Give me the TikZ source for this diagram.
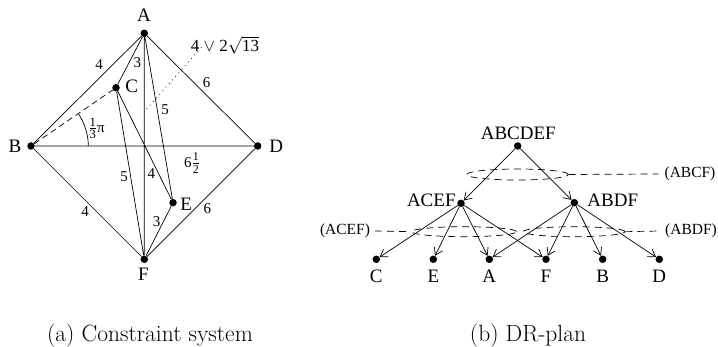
\documentclass[tikz,border=0pt]{standalone}
\usepackage{amsmath}
\usepackage{fontspec}
\newfontfamily\tms{Liberation Serif}
\usetikzlibrary{arrows.meta,shapes.geometric}
\begin{document}
\begin{tikzpicture}[x=1pt,y=-1pt,
  dot/.style={circle,fill,inner sep=0pt,minimum size=7.5pt},
  vlab/.style={font=\tms\fontsize{19}{21}\selectfont,inner sep=0pt},
  elab/.style={font=\tms\fontsize{15}{17}\selectfont,inner sep=0pt},
  plab/.style={font=\tms\fontsize{15.5}{17}\selectfont,inner sep=0pt},
  ln/.style={line width=0.7pt},
  arr/.style={line width=0.7pt,-{Straight Barb[length=7pt,width=9pt,line width=0.7pt]}},
  dsh/.style={line width=0.7pt,dash pattern=on 7pt off 5pt},
  capt/.style={font=\fontsize{23.5}{27}\selectfont,inner sep=0pt,anchor=base}]
\path[use as bounding box] (0,0) rectangle (718,347);
% ---------- (a) constraint system ----------
\node[dot] (A) at (144.3,33.3) {};
\node[dot] (B) at (31,146) {};
\node[dot] (D) at (257.7,146) {};
\node[dot] (F) at (144.3,259.3) {};
\node[dot] (C) at (116,87.7) {};
\node[dot] (E) at (173,202.7) {};
\node[vlab] (lA) at (144,15.3) {A};
\node[vlab] (lB) at (15,146) {B};
\node[vlab] (lD) at (276.3,146) {D};
\node[vlab] (lF) at (143.5,274) {F};
\node[vlab] (lC) at (131.7,86) {C};
\node[vlab] (lE) at (186.3,204) {E};
\draw[ln] (A) -- (B) (A) -- (D) (B) -- (F) (D) -- (F) (B) -- (D)
  (A) -- (F) (A) -- (C) (A) -- (E) (C) -- (F) (C) -- (E) (E) -- (F);
\draw[ln,dash pattern=on 6pt off 4pt] (B) -- (C);
\coordinate (d1) at (146.7,109);
\coordinate (d2) at (201.7,47);
\draw[line width=0.7pt,dash pattern=on 0.8pt off 4pt] (d1) -- (d2);
\draw[ln] ([shift={(57.3,0)}]B.center) arc[start angle=0,end angle=-34.4,radius=57.3];
\node[elab] (n1) at (99,65) {4};
\node[elab] (n2) at (137.3,62.7) {3};
\node[elab] (n3) at (206.7,82.7) {6};
\node[elab] (n4) at (165,109.3) {5};
\node[elab] (n5) at (96.5,128.3) {{\fontsize{18}{20}\selectfont$\frac{\text{1}}{\text{3}}$}π};
\node[elab] (n6) at (192,163) {6{\fontsize{17}{19}\selectfont$\frac{\text{1}}{\text{2}}$}};
\node[elab] (n7) at (124,176.7) {5};
\node[elab] (n8) at (151.3,174) {4};
\node[elab] (n9) at (85,211.7) {4};
\node[elab] (n10) at (156.7,221.7) {3};
\node[elab] (n11) at (207.3,208.3) {6};
\node[elab,font=\tms\fontsize{17}{19}\selectfont] (n12) at (225,45) {4 $\vee$ 2$\sqrt{\text{13}}$};
% ---------- (b) DR-plan ----------
\node[dot] (R) at (517.7,146) {};
\node[dot] (P) at (461,203.3) {};
\node[dot] (Q) at (574.3,202.7) {};
\node[dot] (tC) at (376.3,259.3) {};
\node[dot] (tE) at (433.3,259.3) {};
\node[dot] (tA) at (489.3,259.3) {};
\node[dot] (tF) at (546,259.3) {};
\node[dot] (tB) at (602.7,259.3) {};
\node[dot] (tD) at (659.3,259.3) {};
\node[vlab] (lR) at (518.3,133) {ABCDEF};
\node[vlab] (lP) at (431.3,200) {ACEF};
\node[vlab] (lQ) at (612.8,200) {ABDF};
\node[vlab] (ltC) at (376.3,276) {C};
\node[vlab] (ltE) at (433.3,276) {E};
\node[vlab] (ltA) at (489.3,276) {A};
\node[vlab] (ltF) at (546,276) {F};
\node[vlab] (ltB) at (602.7,276) {B};
\node[vlab] (ltD) at (659.3,276) {D};
\draw[arr] (R) -- (P);
\draw[arr] (R) -- (Q);
\draw[arr] (P) -- (tC);
\draw[arr] (P) -- (tE);
\draw[arr] (P) -- (tA);
\draw[arr] (P) -- (tF);
\draw[arr] (Q) -- (tA);
\draw[arr] (Q) -- (tF);
\draw[arr] (Q) -- (tB);
\draw[arr] (Q) -- (tD);
% clusters
\node[dsh,draw,ellipse,inner sep=0pt,minimum width=101.6pt,minimum height=11pt] (e1) at (517.5,174.5) {};
\node[dsh,draw,ellipse,inner sep=0pt,minimum width=105pt,minimum height=10pt] (e2) at (464,231.7) {};
\node[dsh,draw,ellipse,inner sep=0pt,minimum width=102pt,minimum height=10pt] (e3) at (574,231.7) {};
\node[plab] (k1) at (690,174) {(ABCF)};
\node[plab] (k2) at (345,231) {(ACEF)};
\node[plab] (k3) at (691,231) {(ABDF)};
\draw[dsh] (e1.east) -- ([xshift=-6pt]k1.west);
\draw[dsh] ([xshift=5pt]k2.east) -- (e2.west);
\draw[dsh] (e3.east) -- ([xshift=-5pt]k3.west);
% captions
\node[capt] (ca) at (150,342) {(a) Constraint system};
\node[capt] (cb) at (528,342) {(b) DR-plan};
\end{tikzpicture}
\end{document}
